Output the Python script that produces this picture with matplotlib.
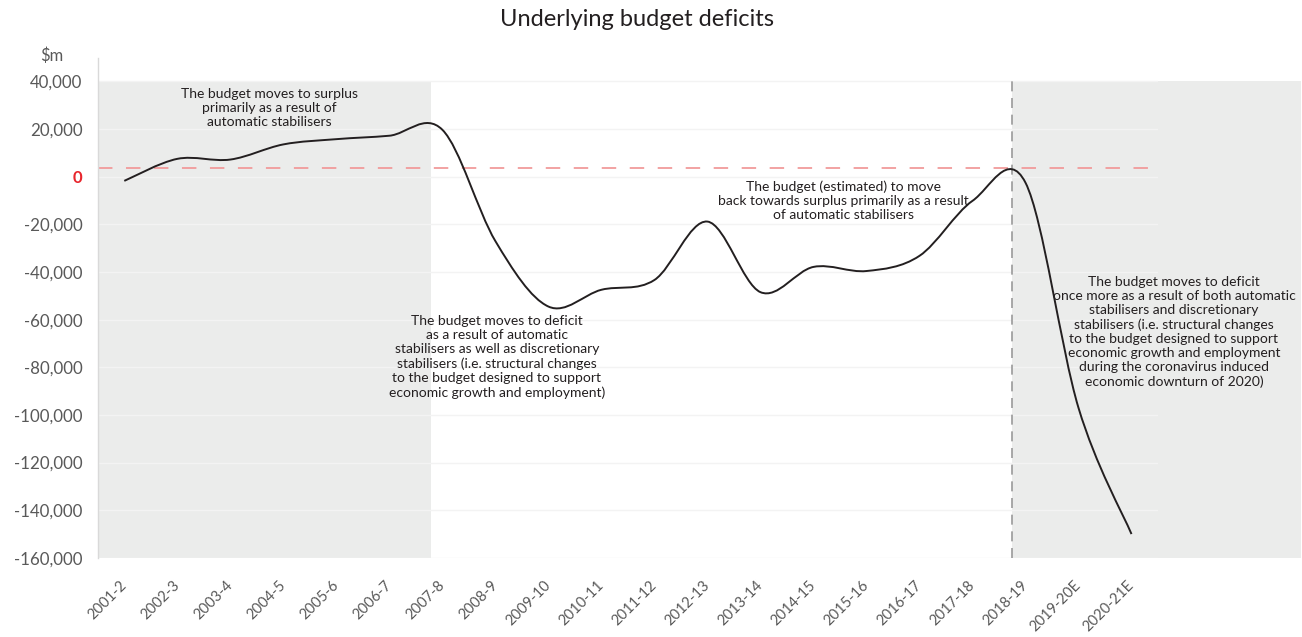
import matplotlib
matplotlib.use("Agg")
import matplotlib.pyplot as plt
from matplotlib.path import Path
from matplotlib.patches import PathPatch, Rectangle

# Financial years and underlying cash balance ($m)
years = ["2001-2", "2002-3", "2003-4", "2004-5", "2005-6", "2006-7", "2007-8",
         "2008-9", "2009-10", "2010-11", "2011-12", "2012-13", "2013-14",
         "2014-15", "2015-16", "2016-17", "2017-18", "2018-19", "2019-20E",
         "2020-21E"]
balance = [-1748, 7495, 7200, 13554, 15757, 17199, 19704,
           -27013, -54494, -47463, -43360, -18834, -48456,
           -37867, -39591, -33225, -10141, -2500, -97000,
           -150000]
y_ticks = [40000, 20000, 0, -20000, -40000, -60000, -80000, -100000,
           -120000, -140000, -160000]

notes = [
    "The budget moves to surplus\nprimarily as a result of\nautomatic stabilisers",
    "The budget moves to deficit\nas a result of automatic\nstabilisers as well as discretionary\n"
    "stabilisers (i.e. structural changes\nto the budget designed to support\n"
    "economic growth and employment)",
    "The budget (estimated) to move\nback towards surplus primarily as a result\nof automatic stabilisers",
    "The budget moves to deficit\nonce more as a result of both automatic\nstabilisers and discretionary\n"
    "stabilisers (i.e. structural changes\nto the budget designed to support\n"
    "economic growth and employment\nduring the coronavirus induced\neconomic downturn of 2020)",
]

TEXT_FONT = ["Lato", "DejaVu Sans"]
INK = "#231f20"
AXIS_GREY = "#595959"
SHADE = "#ebeceb"

fig = plt.figure(figsize=(13.02, 6.37), dpi=100)
ax = fig.add_axes([0.0751, 0.1242, 0.8143, 0.7854])

x = list(range(len(years)))
ax.set_xlim(-0.5, len(years) - 0.5)
ax.set_ylim(-160000, 50000)

# Shaded phases (the right one runs past the plotting area)
ax.add_patch(Rectangle((-0.5, -160000), 6.29, 200000, facecolor=SHADE,
                       edgecolor="none", zorder=0))
ax.add_patch(Rectangle((16.75, -160000), 5.45, 200000, facecolor=SHADE,
                       edgecolor="none", zorder=0, clip_on=False))

# Horizontal gridlines
for v in y_ticks:
    ax.axhline(v, color="#f3f3f3", lw=1.0, zorder=1)

# Reference line for balance and turning point marker
ax.axhline(3500, color="#f19b9b", lw=1.3, dashes=(8, 7.5), zorder=2)
ax.plot([16.75, 16.75], [-160000, 40000], color="#9a9a9a", lw=1.2,
        dashes=(6, 4), zorder=2)

# Smoothed line through the yearly values (cubic Bezier, Catmull-Rom tangents)
n = len(x)
verts = [(x[0], balance[0])]
codes = [Path.MOVETO]
for i in range(n - 1):
    ip, inn = max(i - 1, 0), min(i + 2, n - 1)
    c1 = (x[i] + (x[i + 1] - x[ip]) / 6, balance[i] + (balance[i + 1] - balance[ip]) / 6)
    c2 = (x[i + 1] - (x[inn] - x[i]) / 6, balance[i + 1] - (balance[inn] - balance[i]) / 6)
    verts += [c1, c2, (x[i + 1], balance[i + 1])]
    codes += [Path.CURVE4] * 3
ax.add_patch(PathPatch(Path(verts, codes), facecolor="none", edgecolor=INK,
                       lw=1.4, zorder=4, capstyle="butt"))

# Axes styling
for side in ("top", "right", "bottom"):
    ax.spines[side].set_visible(False)
ax.spines["left"].set_color("#d9d9d9")
ax.spines["left"].set_linewidth(1.0)

ax.set_yticks(y_ticks)
ax.set_yticklabels([f"{v:,}" for v in y_ticks], fontfamily=TEXT_FONT,
                   fontsize=12.2, color=AXIS_GREY)
ax.tick_params(axis="y", length=0, pad=11)
for lab, v in zip(ax.get_yticklabels(), y_ticks):
    if v == 0:
        lab.set_color("#e8262d")
        lab.set_fontweight("bold")

ax.set_xticks(x)
ax.set_xticklabels(years, rotation=45, ha="right", va="center",
                   rotation_mode="anchor", fontfamily=TEXT_FONT,
                   fontsize=10.6, color=AXIS_GREY)
ax.tick_params(axis="x", length=0, pad=18)

fig.text(0.040, 0.913, "$m", ha="center", va="center", fontfamily=TEXT_FONT,
         fontsize=12, color=AXIS_GREY)

fig.text(0.489, 0.970, "Underlying budget deficits", ha="center", va="center",
         fontfamily=TEXT_FONT, fontsize=17, color=INK)

note_pos = [(2.73, 28800), (7.03, -75700), (13.57, -10200), (19.80, -65200)]
for (nx, ny), txt in zip(note_pos, notes):
    ax.text(nx, ny, txt, ha="center", va="center", multialignment="center",
            fontfamily=TEXT_FONT, fontsize=10, color=INK, linespacing=1.2,
            zorder=5, clip_on=False)

fig.savefig("out.png", dpi=100)
